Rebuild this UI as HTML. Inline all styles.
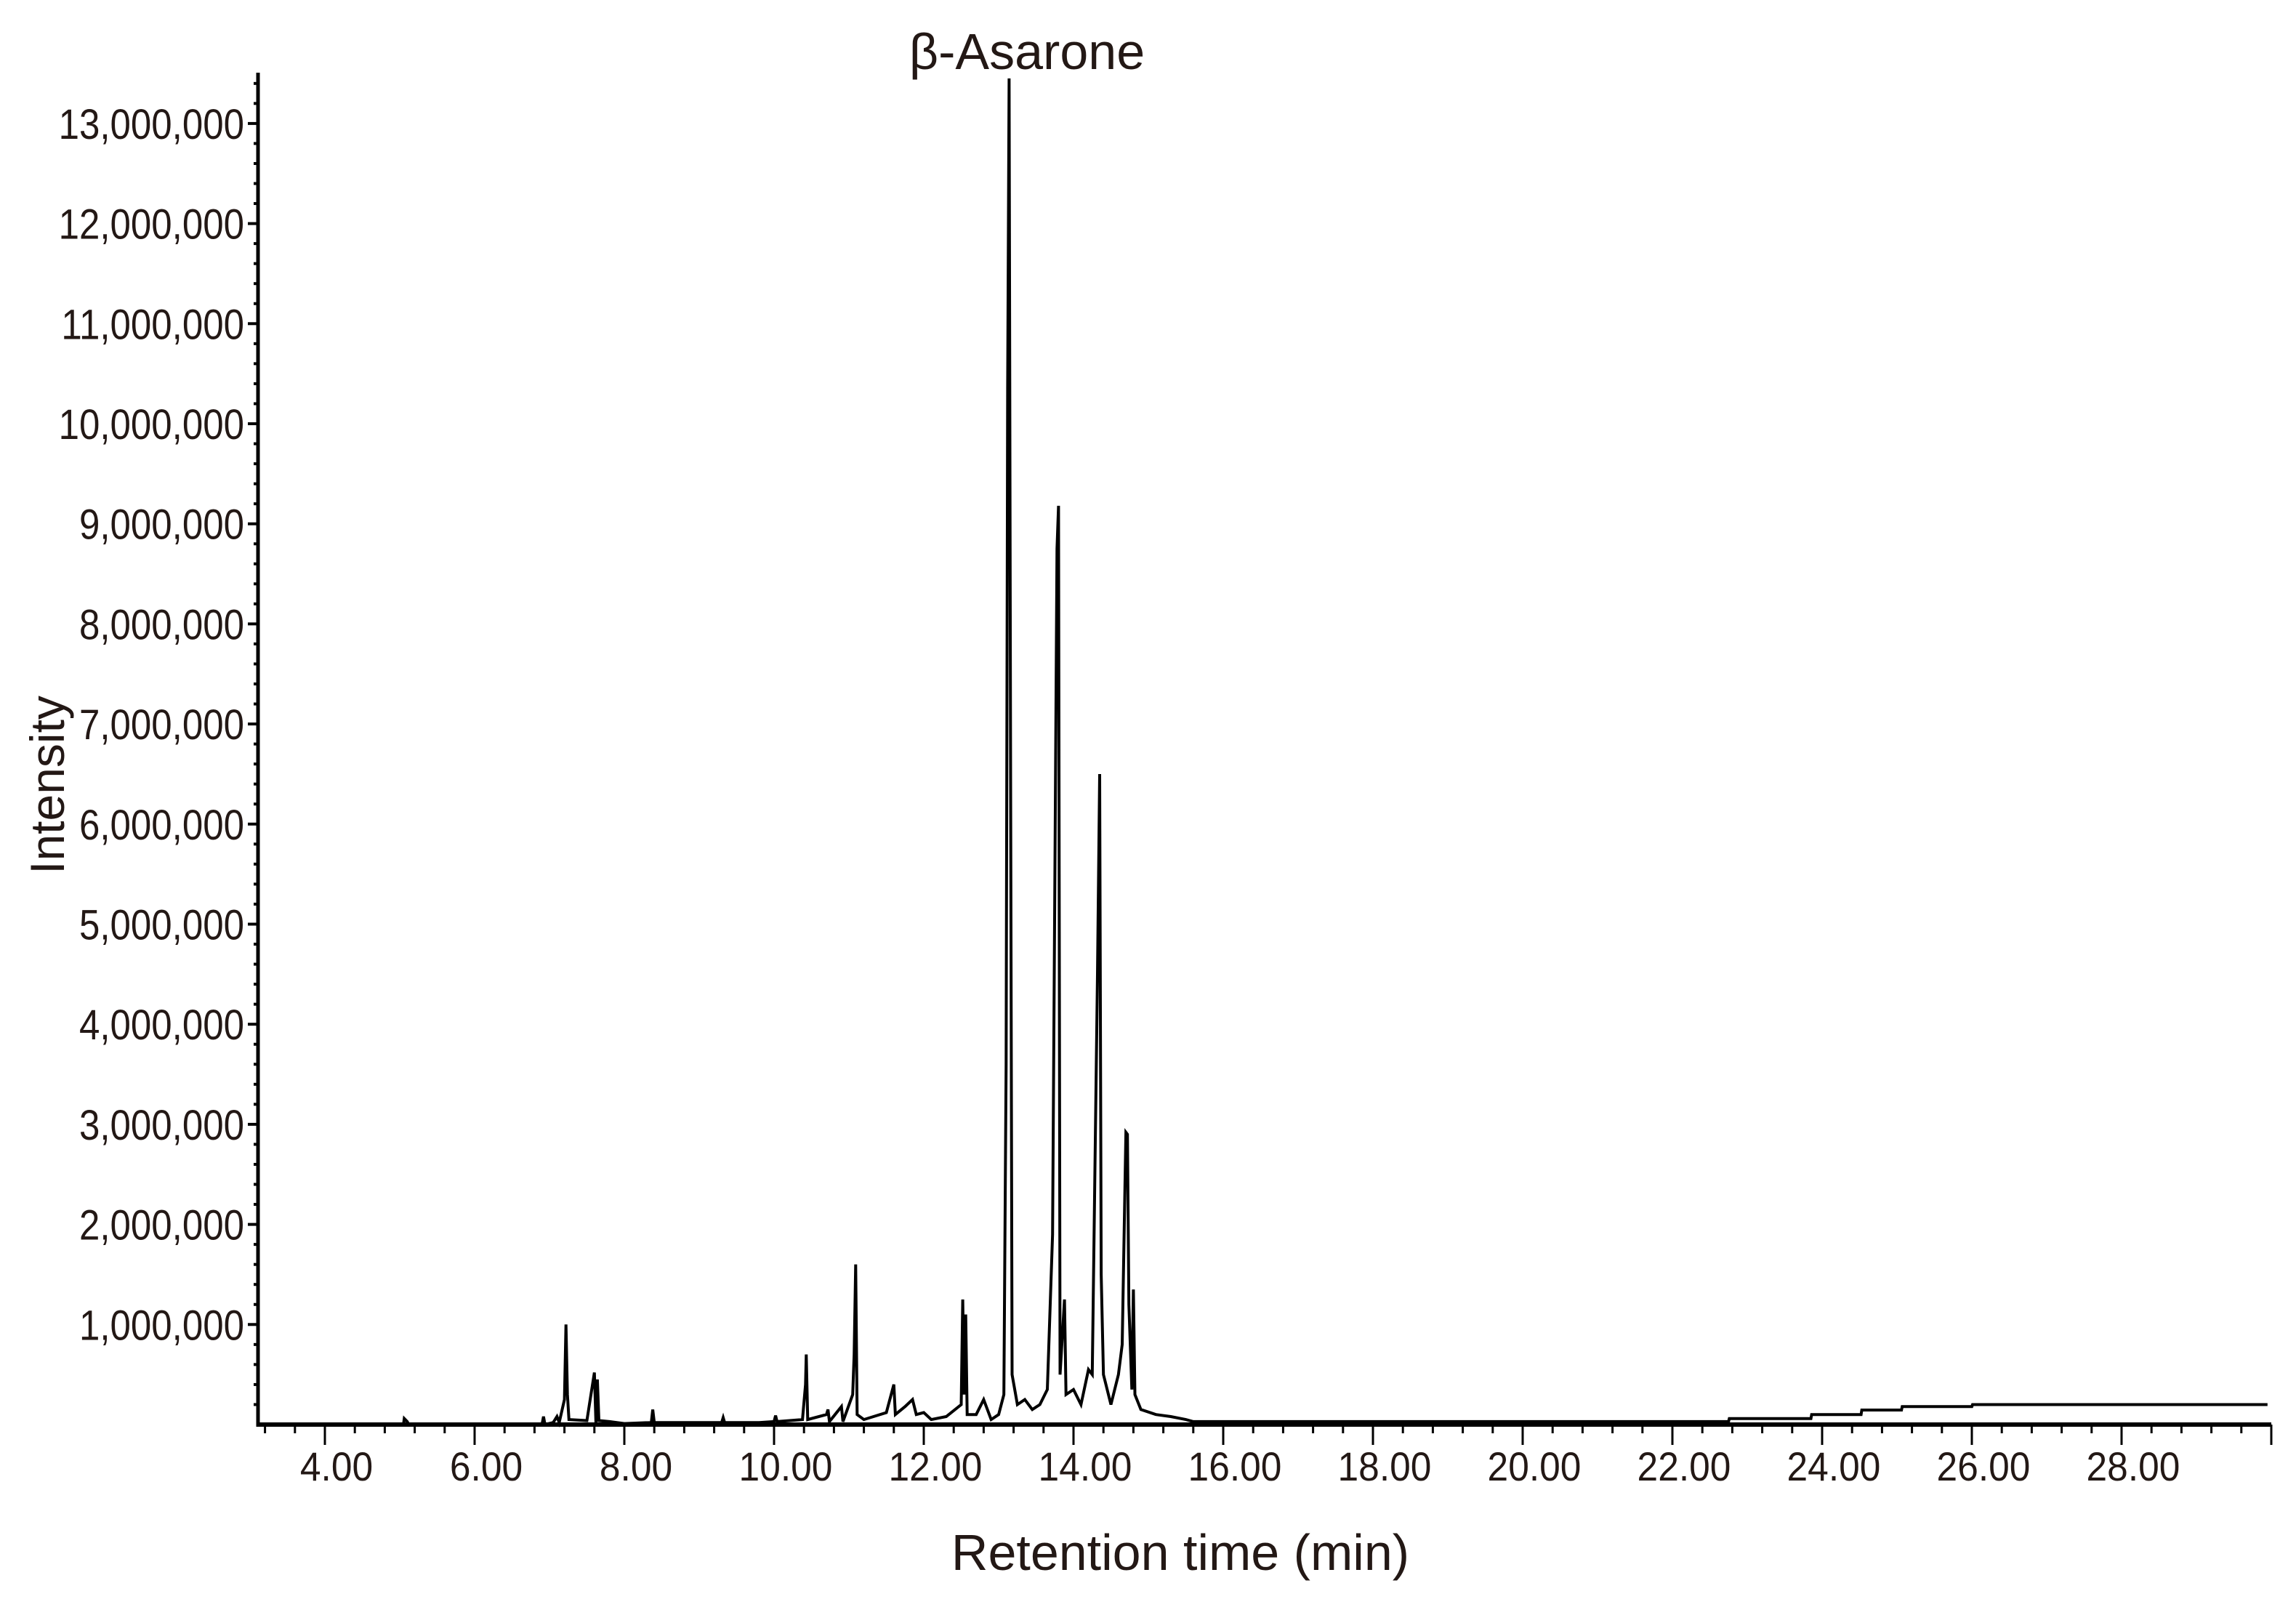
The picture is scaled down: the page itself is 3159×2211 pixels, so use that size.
<!DOCTYPE html>
<html><head><meta charset="utf-8"><style>
html,body{margin:0;padding:0;background:#fff;}
svg{display:block;font-family:"Liberation Sans",Arial,sans-serif;}
</style></head><body>
<svg id="chart" width="3159" height="2211" viewBox="0 0 3159 2211" xmlns="http://www.w3.org/2000/svg">
<rect width="3159" height="2211" fill="#fff"/>
<g id="axes"></g>
<g id="ylabels" transform="translate(336,0) scale(0.88,1)"></g>
<g id="series"></g>
<text x="1413" y="95" font-size="70" text-anchor="middle" fill="#231815">β-Asarone</text>
<text x="1624" y="2160" font-size="70" text-anchor="middle" fill="#231815">Retention time (min)</text>
<text transform="translate(88,1080) rotate(-90)" font-size="66" text-anchor="middle" fill="#231815">Intensity</text>
</svg>
<script>
const retention = [3.2,5.05,5.06,5.1,5.12,6.9,6.92,6.94,7.05,7.1,7.13,7.2,7.22,7.24,7.26,7.5,7.6,7.62,7.64,7.66,7.8,8.0,8.36,8.38,8.4,9.0,9.3,9.32,9.34,9.8,10.0,10.02,10.04,10.38,10.42,10.43,10.45,10.7,10.72,10.74,10.9,10.92,11.05,11.07,11.09,11.11,11.2,11.5,11.6,11.62,11.75,11.85,11.9,12.0,12.1,12.3,12.5,12.52,12.54,12.56,12.58,12.7,12.8,12.9,13.0,13.07,13.1,13.12,13.14,13.16,13.18,13.25,13.35,13.45,13.55,13.65,13.72,13.78,13.8,13.82,13.88,13.9,14.0,14.1,14.2,14.25,14.32,14.35,14.37,14.4,14.5,14.6,14.65,14.7,14.72,14.74,14.78,14.8,14.82,14.9,15.1,15.3,15.5,15.6,22.75,22.76,23.85,23.86,24.52,24.53,25.06,25.07,26.0,26.01,29.95];
const intensity = [0,0,0.06,0.03,0,0,0.08,0,0.02,0.08,0.02,0.25,1.0,0.3,0.05,0.04,0.52,0.02,0.45,0.04,0.03,0.01,0.02,0.15,0.02,0.02,0.02,0.07,0.02,0.02,0.03,0.09,0.03,0.05,0.4,0.7,0.05,0.1,0.15,0.03,0.18,0.03,0.3,0.7,1.6,0.1,0.05,0.12,0.4,0.1,0.18,0.25,0.1,0.12,0.05,0.08,0.2,1.25,0.3,1.1,0.1,0.1,0.25,0.05,0.1,0.3,3.6,10.35,13.45,6.35,0.5,0.2,0.25,0.15,0.2,0.35,1.9,8.75,9.18,0.5,1.25,0.3,0.35,0.2,0.55,0.5,4.5,6.5,1.5,0.5,0.2,0.5,0.8,2.92,2.9,1.2,0.35,1.35,0.3,0.15,0.1,0.08,0.05,0.03,0.03,0.06,0.06,0.1,0.1,0.145,0.145,0.18,0.18,0.2,0.2];
const xTickLabels = ["4.00","6.00","8.00","10.00","12.00","14.00","16.00","18.00","20.00","22.00","24.00","26.00","28.00"];
const xTickValues = [4,6,8,10,12,14,16,18,20,22,24,26,28];
const yTickValues = [1,2,3,4,5,6,7,8,9,10,11,12,13];
const yTickLabels = ["1,000,000","2,000,000","3,000,000","4,000,000","5,000,000","6,000,000","7,000,000","8,000,000","9,000,000","10,000,000","11,000,000","12,000,000","13,000,000"];

const NS="http://www.w3.org/2000/svg";
const X0=355, X1=3125, Y0=1960, YTOP=100;
function xs(t){return 447+(t-4)*103;}
function ys(v){return Y0-v*137.7;}
function mk(tag,attrs,parent){const e=document.createElementNS(NS,tag);for(const k in attrs)e.setAttribute(k,attrs[k]);parent.appendChild(e);return e;}
const axes=document.getElementById('axes');
const ylabels=document.getElementById('ylabels');
const ya=mk('line',{x1:X0,y1:YTOP,x2:X0,y2:Y0+3,stroke:'#000','stroke-width':5},axes);


const xa=mk('line',{x1:X0,y1:Y0,x2:X1,y2:Y0,stroke:'#000','stroke-width':6},axes);


for(let v=0.2;v<13.6;v+=0.2){
  const yy=ys(v);
  if(yy<YTOP)break;
  const major=Math.abs(v-Math.round(v))<0.01;
  const t=mk('line',{x1:major?X0-14:X0-6,y1:yy,x2:X0,y2:yy,stroke:'#000','stroke-width':4},axes);
  
  
}
yTickValues.forEach((v,i)=>{
  const l=mk('text',{x:0,y:ys(v)+21,'font-size':58,'text-anchor':'end',fill:'#231815'},ylabels);
  l.textContent=yTickLabels[i];
  
  
});
for(let t=3.2;t<=30.01;t+=0.4){
  const xx=xs(t);
  const major=Math.abs(t/2-Math.round(t/2))<0.01;
  const tk=mk('line',{x1:xx,y1:Y0,x2:xx,y2:Y0+(major?28:12),stroke:'#000','stroke-width':3},axes);
  
  
}
xTickValues.forEach((v,i)=>{
  const l=mk('text',{x:xs(v)+16,y:2037,'font-size':56,'text-anchor':'middle',fill:'#231815',transform:'translate('+(xs(v)+16)+',0) scale(0.92,1) translate('+(-(xs(v)+16))+',0)'},axes);
  l.textContent=xTickLabels[i];
  
  
});
const series=document.getElementById('series');
let d='';
retention.forEach((t,i)=>{d+=(i?'L':'M')+xs(t).toFixed(1)+' '+ys(intensity[i]).toFixed(1)+' ';});
const p=mk('path',{d:d,fill:'none',stroke:'#000','stroke-width':4,'stroke-linejoin':'miter'},series);


</script>
</body></html>
